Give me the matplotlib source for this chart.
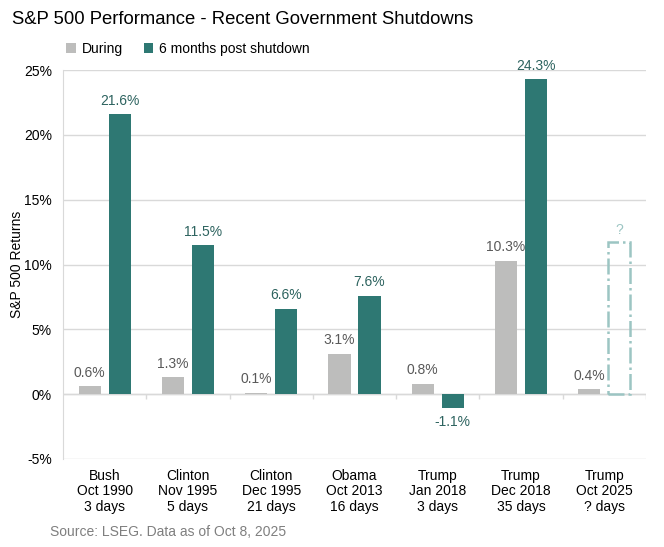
import numpy as np
import matplotlib
matplotlib.use("Agg")
import matplotlib.pyplot as plt
from matplotlib.patches import Rectangle

plt.rcParams['font.family'] = ['Liberation Sans', 'DejaVu Sans']

# данные
categories = ["Bush\nOct 1990\n3 days", "Clinton\nNov 1995\n5 days",
              "Clinton\nDec 1995\n21 days", "Obama\nOct 2013\n16 days",
              "Trump\nJan 2018\n3 days", "Trump\nDec 2018\n35 days",
              "Trump\nOct 2025\n? days"]
during = [0.6, 1.3, 0.1, 3.1, 0.8, 10.3, 0.4]
post = [21.6, 11.5, 6.6, 7.6, -1.1, 24.3]   # для 2025 данных нет
placeholder = 11.7   # пунктирный столбец "?"
yticks = [-5, 0, 5, 10, 15, 20, 25]

GRAY = '#BDBDBC'
TEAL = '#2E7873'
TEAL_TXT = '#2D635F'
GRAY_TXT = '#595959'
GRID = '#D9D9D9'
GHOST = '#9CC5C3'

fig = plt.figure(figsize=(6.64, 5.47), dpi=100)
ax = fig.add_axes([0.0949, 0.1609, 0.878, 0.711])

x = np.arange(len(categories))
w = 0.265
off = 0.18

ax.bar(x - off, during, w, color=GRAY, zorder=3, label='During')
ax.bar(x[:len(post)] + off, post, w, color=TEAL, zorder=3,
       label='6 months post shutdown')

# пустой пунктирный столбец
ax.add_patch(Rectangle((x[-1] + off - w / 2, 0), w, placeholder, fill=False,
                       edgecolor=GHOST, lw=1.8, linestyle='-.', zorder=3))
ax.text(x[-1] + off, placeholder + 0.4, '?', ha='center', va='bottom',
        fontsize=10, color=GHOST)

for xi, v in zip(x, during):
    ax.text(xi - off, v + 0.5, f'{v:.1f}%', ha='center', va='bottom',
            fontsize=10, color=GRAY_TXT)
for xi, v in zip(x, post):
    if v >= 0:
        ax.text(xi + off, v + 0.5, f'{v:.1f}%', ha='center', va='bottom',
                fontsize=10, color=TEAL_TXT)
    else:
        ax.text(xi + off, v - 0.5, f'{v:.1f}%', ha='center', va='top',
                fontsize=10, color=TEAL_TXT)

ax.set_xlim(-0.5, len(categories) - 0.5)
ax.set_ylim(-5, 25)
ax.set_yticks(yticks)
ax.set_yticklabels([f'{t}%' for t in yticks], fontsize=10)
ax.set_xticks(x)
ax.set_xticklabels(categories, fontsize=10, linespacing=1.15)
ax.tick_params(axis='both', length=0, pad=8)
ax.tick_params(axis='x', pad=7)
ax.grid(axis='y', color=GRID, lw=1, zorder=0)
ax.axhline(0, color=GRID, lw=1, zorder=2)
ax.vlines(np.arange(0.5, len(categories)), -0.4, 0, color=GRID, lw=1, zorder=2)
for s in ['top', 'right', 'bottom']:
    ax.spines[s].set_visible(False)
ax.spines['left'].set_color(GRID)
ax.set_ylabel('S&P 500 Returns', fontsize=10, labelpad=0)

fig.text(0.018, 0.965, 'S&P 500 Performance - Recent Government Shutdowns',
         fontsize=13.3, va='center', ha='left')
ax.legend(loc='lower left', bbox_to_anchor=(-0.018, 1.0), ncol=2, frameon=False,
          fontsize=10, handlelength=0.7, handleheight=0.7, handletextpad=0.4,
          columnspacing=1.5, borderaxespad=0.6)
fig.text(0.075, 0.027, 'Source: LSEG. Data as of Oct 8, 2025', fontsize=10,
         color='#7F7F7F', va='center', ha='left')

fig.savefig('out.png', dpi=100)
